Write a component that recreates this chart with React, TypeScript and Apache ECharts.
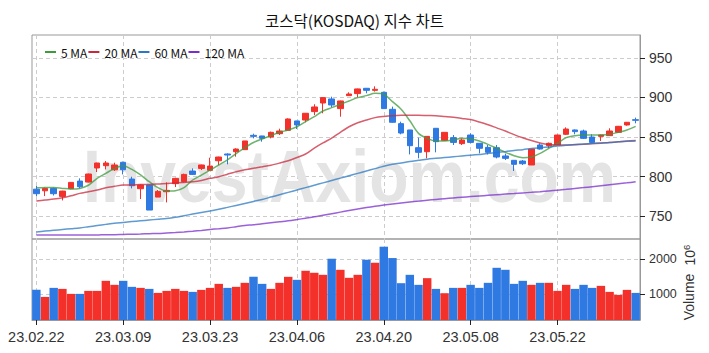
import React, { useEffect, useRef } from 'react';
import * as echarts from 'echarts';

const dates = [
  '23.02.22', '23.02.23', '23.02.24', '23.02.27', '23.02.28', '23.03.02', '23.03.03', '23.03.06', '23.03.07', '23.03.08',
  '23.03.09', '23.03.10', '23.03.13', '23.03.14', '23.03.15', '23.03.16', '23.03.17', '23.03.20', '23.03.21', '23.03.22',
  '23.03.23', '23.03.24', '23.03.27', '23.03.28', '23.03.29', '23.03.30', '23.03.31', '23.04.03', '23.04.04', '23.04.05',
  '23.04.06', '23.04.07', '23.04.10', '23.04.11', '23.04.12', '23.04.13', '23.04.14', '23.04.17', '23.04.18', '23.04.19',
  '23.04.20', '23.04.21', '23.04.24', '23.04.25', '23.04.26', '23.04.27', '23.04.28', '23.05.02', '23.05.03', '23.05.04',
  '23.05.08', '23.05.09', '23.05.10', '23.05.11', '23.05.12', '23.05.15', '23.05.16', '23.05.17', '23.05.18', '23.05.19',
  '23.05.22', '23.05.23', '23.05.24', '23.05.25', '23.05.26', '23.05.30', '23.05.31', '23.06.01', '23.06.02', '23.06.05',
];

const openPrices = [
  784, 782, 785, 774.9, 784.6, 794.3, 793, 810.8, 813.7, 808.5,
  818, 796.8, 784.6, 789.2, 774, 780.8, 791, 793.5, 807, 810.3,
  807.8, 820, 828.5, 831.4, 834, 852.1, 851.3, 850, 854.2, 858.4,
  870.3, 871.5, 882.1, 893, 898.1, 885.9, 902.3, 904.9, 911.6, 909,
  906.5, 885, 866.9, 858.9, 836.5, 831.4, 861, 845.8, 849.2, 841.6,
  852.5, 842, 836.9, 836.5, 826, 820.5, 819.6, 814.6, 839.9, 839,
  839.9, 853.4, 858.9, 857.6, 850, 850.8, 851.7, 855.9, 865.2, 871.9,
];
const closePrices = [
  778.3, 785, 778.3, 781.6, 792.6, 787.1, 803.2, 817.1, 817.1, 814.6,
  808.6, 788.4, 789.2, 757.6, 781.2, 782.5, 797.7, 802.7, 802.7, 814.6,
  813.3, 824.7, 827.2, 834.8, 845, 850.8, 848.3, 855.9, 857.6, 872.8,
  865.2, 880, 888, 899.8, 890.5, 895.6, 904.4, 910.8, 909, 910.3,
  885.9, 868.6, 855, 839, 830.6, 850.8, 844.1, 855.9, 843.2, 846.2,
  843.2, 835.7, 830.6, 824.7, 823, 815.4, 816.2, 834.8, 834.8, 842,
  852.5, 860.1, 856.8, 848.3, 843.2, 852.5, 857.6, 863.5, 868.6, 871.1,
];
const lowPrices = [
  775.3, 775.3, 776, 769.8, 784, 785, 792.6, 805.7, 809, 807,
  802.7, 785, 771.5, 757.6, 774, 767.3, 786.7, 792.6, 801.9, 808.2,
  807.4, 814.6, 815.4, 825.1, 834, 848.3, 844.1, 848.3, 852.5, 857.6,
  860.1, 868.6, 877.8, 880, 887.6, 875.7, 901.9, 900.6, 905.3, 907.4,
  885.4, 868.1, 853.4, 828, 823, 823, 830.6, 845, 839.9, 839.9,
  842, 829.3, 828, 823, 820.9, 807, 814.6, 814.6, 834, 835.7,
  839.9, 852.5, 853.4, 847.5, 842, 845, 851.7, 855, 864.3, 867.3,
];
const highPrices = [
  788, 786, 786, 782, 793, 797.7, 803.6, 817.5, 819.6, 817.5,
  818.8, 799.8, 790, 789.5, 783, 792.6, 798.5, 803.6, 810.3, 815,
  823.8, 825.1, 829.3, 835.7, 845, 854.2, 851.5, 856.8, 860.5, 873.6,
  870.5, 880.3, 891.4, 900.2, 901, 896, 906.5, 911.2, 912, 914.1,
  907.4, 888.4, 869.4, 858.9, 849.2, 850.8, 861, 855.9, 852.5, 848.3,
  854.6, 842, 839.9, 839.9, 828.9, 820.5, 820.9, 834.8, 842, 843,
  853, 862.2, 859.5, 859.3, 853.4, 853, 861, 864, 869, 874.5,
];
const volumes = [
  1124, 924, 1181, 1152, 1010, 1010, 1095, 1095, 1381, 1267,
  1381, 1210, 1181, 1152, 1038, 1095, 1152, 1095, 1067, 1124,
  1181, 1295, 1181, 1210, 1324, 1495, 1295, 1152, 1324, 1495,
  1410, 1667, 1610, 1552, 2010, 1695, 1467, 1552, 1981, 1895,
  2352, 2029, 1314, 1552, 1267, 1457, 1152, 1029, 1181, 1181,
  1267, 1181, 1324, 1752, 1695, 1295, 1381, 1267, 1324, 1324,
  1095, 1267, 1152, 1267, 1181, 1238, 1067, 981, 1124, 1038,
];
const ma5 = [
  785.9, 786, 786, 785, 784.2, 785, 789, 797.7, 804, 810.3,
  813.7, 809, 802, 793.5, 786, 781.6, 782, 786, 795.6, 801.9,
  808.2, 814.6, 821, 829, 836.5, 843, 847.5, 851.7, 855.9, 858.9,
  863, 869.4, 875.7, 882.9, 887.1, 891.4, 895.6, 899.8, 902.3, 905.3,
  904, 894.7, 885, 870.5, 854.6, 848.3, 845, 845, 846.2, 848.3,
  847.5, 845, 840.7, 835.7, 830.6, 826.4, 823.8, 824.7, 829.3, 835.7,
  842, 849.2, 851.7, 852.5, 852.5, 852.5, 853.4, 855.9, 858.9, 863.5,
];
const ma20 = [
  769, 770.3, 771.5, 773.2, 775.7, 778.7, 780.8, 782.9, 785.9, 787.6,
  789.2, 789.2, 790, 790, 790.5, 791.3, 791.8, 792.6, 793.5, 795.1,
  797.7, 799.8, 803, 806, 808.5, 810.5, 812.3, 814.3, 817, 820,
  824, 828.5, 836, 842.5, 848.5, 856, 863, 868, 871.5, 874.5,
  876, 877, 877.5, 877.5, 877.5, 877.2, 877, 876, 875, 873.5,
  872, 869, 865.5, 861.5, 857.5, 853, 849, 845.5, 842.5, 840.5,
  840, 840, 840.3, 840.8, 841.5, 842, 843, 844, 845, 845.5,
];
const ma60 = [
  730, 731, 732, 733, 734, 735, 736.5, 738, 739.5, 741,
  742, 743, 744, 745, 746, 747, 748.5, 750.5, 752.5, 754.5,
  756.5, 758.5, 761, 763.5, 766, 768.5, 771, 774, 777, 780,
  783, 786, 789, 792, 795, 798, 801, 804, 807, 810,
  813, 815.5, 817, 819, 820.5, 822, 823, 824, 825, 826,
  827, 828, 829, 830.5, 831.5, 833, 834, 835.5, 836.5, 837.5,
  838.5, 839.5, 840.5, 841, 842, 842.5, 843, 844, 844.5, 845,
];
const ma120 = [
  726, 726, 726, 726, 726, 726, 726, 726, 726.5, 726.5,
  726.8, 727, 727.3, 727.7, 728, 728.6, 729.2, 729.9, 730.8, 731.8,
  733, 734, 735, 736.5, 738, 739, 740.3, 741.5, 742.7, 744,
  745.6, 747.3, 749, 751, 753, 755, 757, 759, 760.8, 762.4,
  763.9, 765.2, 766.5, 767.7, 768.9, 770, 771, 772, 773, 773.8,
  774.6, 775.4, 776.2, 777, 777.8, 778.5, 779.3, 780, 780.8, 781.8,
  782.8, 783.8, 784.9, 786, 787.2, 788.4, 789.6, 790.8, 792, 793.4,
];
const priceTicks = [750, 800, 850, 900, 950];
const volumeTicks = [1000, 2000];

const RED = '#f3302a';
const BLUE = '#2f79e3';
const NARROW = '"Liberation Sans Narrow", "Liberation Sans", Arial, sans-serif';
const GRIDLINE = { color: '#cccccc', type: [4, 3] as number[], width: 1 };

export default function App() {
  const ref = useRef<HTMLDivElement>(null);
  useEffect(() => {
    const chart = echarts.init(ref.current!, null, { renderer: 'svg' });
    const tickIdx = (i: number) => i % 10 === 0;
    const plain = (v: number) => String(v);
    const maSeries = (name: string, data: number[], color: string) => ({
      type: 'line', name, data, xAxisIndex: 0, yAxisIndex: 0,
      showSymbol: false, smooth: 0.3, z: 3,
      lineStyle: { width: 1.5, color, opacity: 0.75 },
      itemStyle: { color },
    });
    const option: any = {
      animation: false,
      backgroundColor: '#ffffff',
      title: {
        text: '코스닥(KOSDAQ) 지수 차트', left: 'center', top: 7,
        textStyle: { fontFamily: '"Noto Sans CJK KR", sans-serif', fontSize: 15.5, fontWeight: 'normal', color: '#111' },
      },
      legend: {
        left: 40, top: 41, itemWidth: 11, itemHeight: 2, itemGap: 1, icon: 'rect',
        data: ['5 MA', '20 MA', '60 MA', '120 MA'],
        textStyle: { fontFamily: '"Noto Sans CJK KR", sans-serif', fontSize: 12, color: '#111' },
      },
      grid: [
        { left: 32, right: 69, top: 35, height: 204, show: true, borderColor: '#999', borderWidth: 1, outerBoundsMode: 'none' },
        { left: 32, right: 69, top: 239, height: 81, show: true, borderColor: '#999', borderWidth: 1, outerBoundsMode: 'none' },
      ],
      xAxis: [
        {
          type: 'category', data: dates, gridIndex: 0, boundaryGap: true,
          axisLine: { show: false }, axisTick: { show: false }, axisLabel: { show: false },
          splitLine: { show: true, interval: tickIdx, alignWithLabel: true, lineStyle: GRIDLINE },
        },
        {
          type: 'category', data: dates, gridIndex: 1, boundaryGap: true,
          axisLine: { show: true, lineStyle: { color: '#999' } },
          axisTick: { show: true, alignWithLabel: true, interval: tickIdx, length: 5, lineStyle: { color: '#222' } },
          axisLabel: { interval: tickIdx, margin: 9, fontSize: 14.5, color: '#333', fontFamily: NARROW, hideOverlap: false },
          splitLine: { show: true, interval: tickIdx, alignWithLabel: true, lineStyle: GRIDLINE },
        },
      ],
      yAxis: [
        {
          type: 'value', gridIndex: 0, position: 'right', min: 721, max: 979, scale: true,
          axisLine: { show: true, lineStyle: { color: '#999' } },
          axisTick: { show: true, length: 5, customValues: priceTicks, lineStyle: { color: '#222' } },
          axisLabel: { margin: 9, fontSize: 14, color: '#333', fontFamily: NARROW, customValues: priceTicks, formatter: plain },
          splitLine: { show: true, lineStyle: GRIDLINE },
        },
        {
          type: 'value', gridIndex: 1, position: 'right', min: 267, max: 2571, scale: true,
          axisLine: { show: true, lineStyle: { color: '#999' } },
          axisTick: { show: true, length: 5, customValues: volumeTicks, lineStyle: { color: '#222' } },
          axisLabel: { margin: 9, fontSize: 12.5, color: '#333', fontFamily: NARROW, customValues: volumeTicks, formatter: plain },
          splitLine: { show: true, lineStyle: GRIDLINE },
        },
      ],
      graphic: [
        {
          type: 'text', x: 83, y: 176, scaleX: 0.87, z: 1, silent: true,
          style: {
            text: 'InvestAxiom.com', fontSize: 74, fontWeight: 'bold',
            fontFamily: '"Liberation Sans", Arial, sans-serif', fill: '#e4e4e4',
            align: 'left', verticalAlign: 'middle',
          },
        },
        {
          type: 'text', x: 689, y: 297, rotation: Math.PI / 2, silent: true,
          style: { text: 'Volume', fontSize: 14, fontFamily: NARROW, fill: '#333', align: 'center', verticalAlign: 'middle' },
        },
        {
          type: 'text', x: 689, y: 255, rotation: Math.PI / 2, silent: true,
          style: {
            text: '{a|10}{b|6}', fontFamily: NARROW, fill: '#333', align: 'center', verticalAlign: 'middle',
            rich: {
              a: { fontSize: 14, fontFamily: NARROW, fill: '#333', lineHeight: 16, verticalAlign: 'bottom' },
              b: { fontSize: 9.5, fontFamily: NARROW, fill: '#333', lineHeight: 16, verticalAlign: 'top' },
            },
          },
        },
      ],
      series: [
        {
          type: 'candlestick', name: 'KOSDAQ', xAxisIndex: 0, yAxisIndex: 0, barWidth: 6, z: 2,
          data: dates.map((_, i) => [openPrices[i], closePrices[i], lowPrices[i], highPrices[i]]),
          itemStyle: { color: RED, color0: BLUE, borderColor: RED, borderColor0: BLUE, borderWidth: 1 },
        },
        maSeries('5 MA', ma5, '#3d9a3d'),
        maSeries('20 MA', ma20, '#c8283c'),
        maSeries('60 MA', ma60, '#2a78c0'),
        maSeries('120 MA', ma120, '#7a2ccc'),
        {
          type: 'bar', name: 'Volume', xAxisIndex: 1, yAxisIndex: 1, barCategoryGap: '3%',
          data: volumes.map((v, i) => ({
            value: v,
            itemStyle: { color: closePrices[i] >= openPrices[i] ? RED : BLUE },
          })),
        },
      ],
    };
    chart.setOption(option);
    return () => chart.dispose();
  }, []);
  return <div ref={ref} style={{ position: 'absolute', left: 0, top: 0, width: 709, height: 353 }} />;
}
